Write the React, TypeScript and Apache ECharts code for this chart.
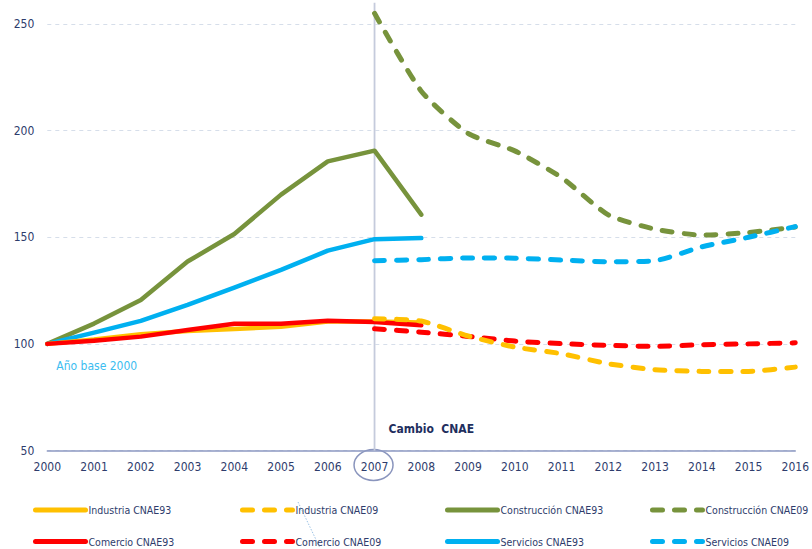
import React, { useEffect, useRef } from "react";
import * as echarts from "echarts";

const years = ["2000","2001","2002","2003","2004","2005","2006","2007","2008","2009","2010","2011","2012","2013","2014","2015","2016"];

const industria93 = [100, 102, 104.5, 106, 107, 108, 110.5, 110.5, 110, null, null, null, null, null, null, null, null];
const comercio93 = [100, 101.5, 103.4, 106.5, 109.4, 109.4, 110.8, 110.3, 108.7, null, null, null, null, null, null, null, null];
const construccion93 = [100, 109.5, 120.6, 138.6, 151.5, 170, 185.6, 190.6, 160.6, null, null, null, null, null, null, null, null];
const servicios93 = [100, 105.3, 110.8, 118.3, 126.4, 134.7, 143.7, 149.1, 149.6, null, null, null, null, null, null, null, null];

const industria09 = [null, null, null, null, null, null, null, 111.8, 110.7, 103.7, 98.5, 95.4, 90.7, 87.9, 87.1, 87.1, 89.1];
const comercio09 = [null, null, null, null, null, null, null, 107.1, 105.5, 103.5, 101.3, 100.1, 99.3, 98.8, 99.6, 100, 100.5];
const construccion09 = [null, null, null, null, null, null, null, 255, 218.5, 198.7, 190.5, 178, 160.5, 153.8, 151, 152.2, 154.8];
const servicios09 = [null, null, null, null, null, null, null, 139, 139.5, 140.3, 140.2, 139.3, 138.5, 139, 145.5, 150, 155];

const legendRow1 = ["Industria CNAE93", "Industria CNAE09", "Construcción CNAE93", "Construcción CNAE09"];
const legendRow2 = ["Comercio CNAE93", "Comercio CNAE09", "Servicios CNAE93", "Servicios CNAE09"];

const C_YELLOW = "#FFC000";
const C_GREEN = "#77933C";
const C_RED = "#FF0000";
const C_BLUE = "#00B0F0";
const NAVY = "#2E3C6C";
const FONT = "'DejaVu Sans Condensed'";

export default function App() {
  const ref = useRef<HTMLDivElement>(null);
  useEffect(() => {
    if (!ref.current) return;
    const chart = echarts.init(ref.current, undefined, { renderer: "svg" });
    const solid = (name: string, data: any[], color: string, z: number) => ({
      name, type: "line", data, symbol: "none", clip: false, z,
      lineStyle: { color, width: 4.5, cap: "round", join: "round" },
      itemStyle: { color },
    });
    const dashed = (name: string, data: any[], color: string, z: number) => ({
      name, type: "line", data, symbol: "none", clip: false, z, smooth: 0.2,
      lineStyle: { color, width: 5, type: [10, 12], cap: "round", join: "round" },
      itemStyle: { color },
    });
    const colLeft = [33, 240, 445, 650];
    const mkLegend = (name: string, col: number, top: number) => ({
      orient: "horizontal", left: colLeft[col], top, itemWidth: 50, itemHeight: 12, itemGap: 0,
      itemStyle: { opacity: 0 },
      lineStyle: { width: 5, cap: "round" },
      textStyle: { fontFamily: FONT, fontSize: 10.5, color: NAVY, padding: [0, 0, 0, -2] },
      selectedMode: false, padding: 0,
      data: [name],
    });
    const legends = [
      ...legendRow1.map((n, i) => mkLegend(n, i, 504.5)),
      ...legendRow2.map((n, i) => mkLegend(n, i, 536)),
    ];
    chart.setOption({
      animation: false,
      grid: { left: 47.3, right: 12, top: 24, bottom: 98.5, containLabel: false },
      xAxis: {
        type: "category", data: years, boundaryGap: false,
        axisLine: { lineStyle: { color: "#8D99C2", width: 1.5 } },
        axisTick: { show: false },
        axisLabel: { fontFamily: FONT, fontSize: 12, color: NAVY, margin: 10, interval: 0 },
      },
      yAxis: {
        type: "value", min: 50, max: 250, interval: 50,
        axisLine: { show: false }, axisTick: { show: false },
        axisLabel: { fontFamily: FONT, fontSize: 12, color: NAVY, margin: 13 },
        splitLine: { lineStyle: { color: "#D6DEEA", type: [4, 4], width: 1 } },
      },
      legend: legends,
      series: [
        solid("Construcción CNAE93", construccion93, C_GREEN, 2),
        solid("Servicios CNAE93", servicios93, C_BLUE, 3),
        solid("Industria CNAE93", industria93, C_YELLOW, 4),
        solid("Comercio CNAE93", comercio93, C_RED, 5),
        dashed("Construcción CNAE09", construccion09, C_GREEN, 2),
        dashed("Servicios CNAE09", servicios09, C_BLUE, 3),
        dashed("Comercio CNAE09", comercio09, C_RED, 4),
        dashed("Industria CNAE09", industria09, C_YELLOW, 5),
      ],
    });
    const x2007 = chart.convertToPixel({ xAxisIndex: 0 }, "2007") as number;
    const x2000 = chart.convertToPixel({ xAxisIndex: 0 }, "2000") as number;
    const y50 = chart.convertToPixel({ yAxisIndex: 0 }, 50) as number;
    const y100 = chart.convertToPixel({ yAxisIndex: 0 }, 100) as number;
    const yTop = chart.convertToPixel({ yAxisIndex: 0 }, 260) as number;
    chart.setOption({
      graphic: [
        {
          type: "line", z: 1, silent: true,
          shape: { x1: x2007, y1: yTop, x2: x2007, y2: y50 },
          style: { stroke: "#C5CBDC", lineWidth: 1.8 },
        },
        {
          type: "ellipse", silent: true,
          shape: { cx: x2007 - 1, cy: y50 + 14.5, rx: 19.5, ry: 15.5 },
          style: { fill: "none", stroke: "#8A95BD", lineWidth: 1.5 },
        },
        {
          type: "text", silent: true, x: x2007 + 14, y: y50 - 22,
          style: { text: "Cambio  CNAE", fontFamily: FONT, fontWeight: "bold", fontSize: 12, fill: "#1F2F5E", verticalAlign: "middle" },
        },
        {
          type: "text", silent: true, x: x2000 + 9, y: y100 + 22.5,
          style: { text: "Año base 2000", fontFamily: FONT, fontSize: 12, fill: "#3CBDF0", verticalAlign: "middle" },
        },
        {
          type: "line", silent: true,
          shape: { x1: 298, y1: 502, x2: 320, y2: 548 },
          style: { stroke: "#9CC3E6", lineWidth: 1, lineDash: [1.5, 1.5] },
        },
      ],
    });
    return () => chart.dispose();
  }, []);
  return <div ref={ref} style={{ position: "fixed", left: 0, top: 0, width: 812, height: 549, background: "#fff" }} />;
}
